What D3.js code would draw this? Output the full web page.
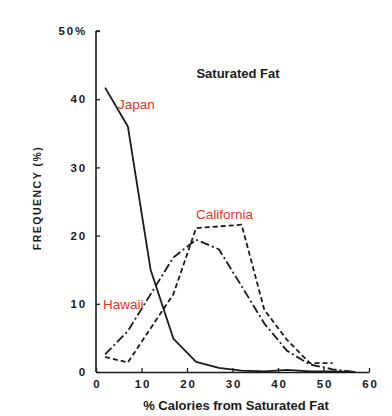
<!DOCTYPE html>
<html><head><meta charset="utf-8">
<script src="https://cdn.jsdelivr.net/npm/d3@7"></script>
<style>
html,body{margin:0;padding:0;background:#fff;}
svg{display:block;}
</style>
</head><body>
<svg id="c" width="392" height="416"></svg>
<script>
const xValues = [2, 7, 12, 17, 22, 27, 32, 37, 42, 47, 52, 57];
const japan = [41.7, 36, 15, 4.9, 1.5, 0.6, 0.2, 0.1, 0.3, 0.1, 0.1, 0];
const hawaiiX = [2, 7, 17, 22, 27, 32, 37, 42, 47, 52, 57];
const hawaii = [2.6, 6, 16.8, 19.4, 18, 12.6, 7.1, 3.1, 1.1, 0.4, 0];
const californiaX = [2, 7, 17, 22, 32, 37, 42, 47, 52];
const california = [2.2, 1.4, 11.4, 21.1, 21.6, 9.1, 4.7, 1.3, 1.3];
const xTicks = [0, 10, 20, 30, 40, 50, 60];
const yTicks = [0, 10, 20, 30, 40, 50];
const seriesLabels = ["Japan", "California", "Hawaii"];

const svg = d3.select("#c");
const x = d3.scaleLinear().domain([0, 60]).range([96, 369]);
const y = d3.scaleLinear().domain([0, 50]).range([372, 31]);
const ink = "#1a1a1a";
const font = "'Liberation Sans', Arial, sans-serif";

// axes
const yAxis = d3.axisLeft(y).tickValues(yTicks).tickSizeInner(-4).tickSizeOuter(0).tickPadding(9)
  .tickFormat(d => d === 50 ? "50%" : d);
const gy = svg.append("g").attr("transform", `translate(${x(0)},0)`).call(yAxis);
const xAxis = d3.axisBottom(x).tickValues(xTicks).tickSizeInner(-4).tickSizeOuter(0).tickPadding(8);
const gx = svg.append("g").attr("transform", `translate(0,${y(0)})`).call(xAxis);
[gx, gy].forEach(g => {
  g.selectAll("path").attr("stroke", ink).attr("stroke-width", 1.6);
  g.selectAll("line").attr("stroke", ink).attr("stroke-width", 1.3);
  g.selectAll("text").attr("fill", ink).style("font-family", font).style("font-size", "11.5px")
    .style("font-weight", "bold").attr("letter-spacing", "1.8px");
});
gx.selectAll("text").attr("dx", "0.9px");
gy.select(".domain").attr("d", `M0,${y(50)}H4M0,${y(50)}V${y(0)}`);

// lines
const line = d3.line().x(d => x(d[0])).y(d => y(d[1]));
const add = (xs, ys, dash) => svg.append("path")
  .datum(xs.map((v, i) => [v, ys[i]]))
  .attr("d", line).attr("fill", "none").attr("stroke", ink)
  .attr("stroke-width", 1.8).attr("stroke-linejoin", "round")
  .attr("stroke-dasharray", dash);
add(xValues, japan, null);
add(hawaiiX, hawaii, "9,3,2,3");
add(californiaX, california, "5,3");

// titles
svg.append("text").attr("x", 238).attr("y", 78).attr("text-anchor", "middle")
  .style("font-family", font).style("font-size", "13px").style("font-weight", "bold").attr("fill", ink)
  .text("Saturated Fat");
svg.append("text").attr("x", 236).attr("y", 410).attr("text-anchor", "middle")
  .style("font-family", font).style("font-size", "13px").style("font-weight", "bold").attr("fill", ink)
  .text("% Calories from Saturated Fat");
svg.append("text").attr("transform", "translate(40.5,198) rotate(-90)").attr("text-anchor", "middle")
  .style("font-family", font).style("font-size", "10.5px").style("font-weight", "bold").attr("fill", ink)
  .attr("letter-spacing", "1.5px")
  .text("FREQUENCY (%)");

// red series labels
const labelPos = [[118, 109], [196, 219], [103, 309]];
seriesLabels.forEach((t, i) => {
  svg.append("text").attr("x", labelPos[i][0]).attr("y", labelPos[i][1])
    .style("font-family", font).style("font-size", "13.5px").attr("fill", "#e8302a").text(t);
});
</script>
</body></html>
